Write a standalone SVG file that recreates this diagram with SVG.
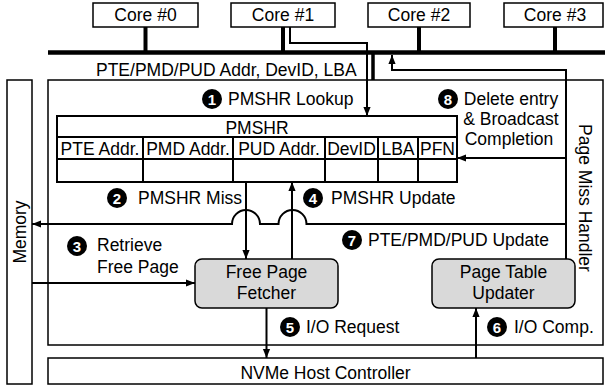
<svg xmlns="http://www.w3.org/2000/svg" width="605" height="389" viewBox="0 0 605 389">
<style>
.t{font-family:"Liberation Sans",Arial,sans-serif;font-size:17.5px;fill:#000}
.box{fill:#fff;stroke:#000;stroke-width:1.5}
.unit{fill:#d9d9d9;stroke:#000;stroke-width:1.5}
.tbl{fill:none;stroke:#000;stroke-width:2}
.c{fill:none;stroke:#000;stroke-width:2}
.thick{stroke:#000;fill:none}
.n{fill:#000}
.nt{font-family:"Liberation Sans",Arial,sans-serif;font-size:15px;font-weight:bold;fill:#fff;text-anchor:middle}
.m{text-anchor:middle}
</style>
<defs>
<marker id="ah" viewBox="0 0 10 10" refX="10" refY="5" markerWidth="9" markerHeight="9" markerUnits="userSpaceOnUse" orient="auto">
<path d="M0,1 L10,5 L0,9 z" fill="#000"/>
</marker>
</defs>

<g id="memory">
<rect class="box" x="7" y="80" width="25" height="304"/>
<text class="t m" transform="translate(26,232) rotate(-90)">Memory</text>
</g>

<g id="page-miss-handler">
<rect class="box" x="48" y="80" width="555" height="265"/>
<text class="t m" transform="translate(579,198) rotate(90)">Page Miss Handler</text>
</g>

<g id="nvme">
<rect class="box" x="48" y="358" width="555" height="26"/>
<text class="t m" x="325.5" y="379">NVMe Host Controller</text>
</g>

<g id="core0">
<rect class="box" x="93" y="3" width="105" height="24"/>
<text class="t m" x="145.5" y="21">Core #0</text>
</g>
<g id="core1">
<rect class="box" x="231" y="3" width="104" height="24"/>
<text class="t m" x="283" y="21">Core #1</text>
</g>
<g id="core2">
<rect class="box" x="368" y="3" width="102" height="24"/>
<text class="t m" x="419" y="21">Core #2</text>
</g>
<g id="core3">
<rect class="box" x="504" y="3" width="99" height="24"/>
<text class="t m" x="555" y="21">Core #3</text>
</g>

<g id="pmshr">
<rect class="tbl" x="57" y="116" width="400" height="66" fill="#fff"/>
<path class="tbl" d="M57,137 H457 M57,159 H457 M143,137 V182 M233,137 V182 M325,137 V182 M378,137 V182 M418,137 V182"/>
<text class="t m" x="257" y="134">PMSHR</text>
<text class="t m" x="100" y="155">PTE Addr.</text>
<text class="t m" x="188" y="155">PMD Addr.</text>
<text class="t m" x="279" y="155">PUD Addr.</text>
<text class="t m" x="351.5" y="155">DevID</text>
<text class="t m" x="398" y="155">LBA</text>
<text class="t m" x="437.5" y="155">PFN</text>
</g>

<g id="free-page-fetcher">
<rect class="unit" x="195" y="259" width="143" height="49" rx="7"/>
<text class="t m" x="266.5" y="278">Free Page</text>
<text class="t m" x="266.5" y="299">Fetcher</text>
</g>

<g id="page-table-updater">
<rect class="unit" x="432" y="259" width="143" height="49" rx="7"/>
<text class="t m" x="503.5" y="278">Page Table</text>
<text class="t m" x="503.5" y="299">Updater</text>
</g>

<g id="connectors">
<line class="thick" x1="48" y1="52.5" x2="605" y2="52.5" stroke-width="4.5"/>
<line class="thick" x1="145.5" y1="27" x2="145.5" y2="52" stroke-width="4"/>
<line class="thick" x1="283" y1="27" x2="283" y2="52" stroke-width="4"/>
<line class="thick" x1="419" y1="27" x2="419" y2="52" stroke-width="4"/>
<line class="thick" x1="555" y1="27" x2="555" y2="52" stroke-width="4"/>
<line class="thick" x1="373" y1="52" x2="373" y2="80" stroke-width="3.5"/>
<path class="c" d="M290,27 V43 H367 V116" marker-end="url(#ah)"/>
<path class="c" d="M566,259 V70 H392 V55" marker-end="url(#ah)"/>
<path class="c" d="M566,158 H457" marker-end="url(#ah)"/>
<path class="c" d="M566,224 H306.5 A14,14 0 0 0 278.5,224 H260 A14,14 0 0 0 232,224 H32" marker-end="url(#ah)"/>
<path class="c" d="M246,182 V259" marker-end="url(#ah)"/>
<path class="c" d="M292,259 V182" marker-end="url(#ah)"/>
<path class="c" d="M32,283 H195" marker-end="url(#ah)"/>
<path class="c" d="M266.5,308 V358" marker-end="url(#ah)"/>
<path class="c" d="M476,358 V308" marker-end="url(#ah)"/>
</g>

<g id="labels">
<text class="t" x="96" y="76">PTE/PMD/PUD Addr, DevID, LBA</text>
<circle class="n" cx="212" cy="99" r="10"/><text class="nt" x="212" y="104.5">1</text>
<text class="t" x="228" y="105">PMSHR Lookup</text>
<circle class="n" cx="117" cy="198" r="10"/><text class="nt" x="117" y="203.5">2</text>
<text class="t" x="138" y="204">PMSHR Miss</text>
<circle class="n" cx="77" cy="246" r="10"/><text class="nt" x="77" y="251.5">3</text>
<text class="t" x="97" y="251">Retrieve</text>
<text class="t" x="97" y="273">Free Page</text>
<circle class="n" cx="313" cy="198" r="10"/><text class="nt" x="313" y="203.5">4</text>
<text class="t" x="331" y="204">PMSHR Update</text>
<circle class="n" cx="290" cy="327" r="10"/><text class="nt" x="290" y="332.5">5</text>
<text class="t" x="306" y="333">I/O Request</text>
<circle class="n" cx="497" cy="327" r="10"/><text class="nt" x="497" y="332.5">6</text>
<text class="t" x="514" y="333">I/O Comp.</text>
<circle class="n" cx="352" cy="240" r="10"/><text class="nt" x="352" y="245.5">7</text>
<text class="t" x="368" y="246">PTE/PMD/PUD Update</text>
<circle class="n" cx="448" cy="99" r="10"/><text class="nt" x="448" y="104.5">8</text>
<text class="t m" x="511" y="105">Delete entry</text>
<text class="t m" x="511" y="125">&amp; Broadcast</text>
<text class="t m" x="509" y="145">Completion</text>
</g>
</svg>
